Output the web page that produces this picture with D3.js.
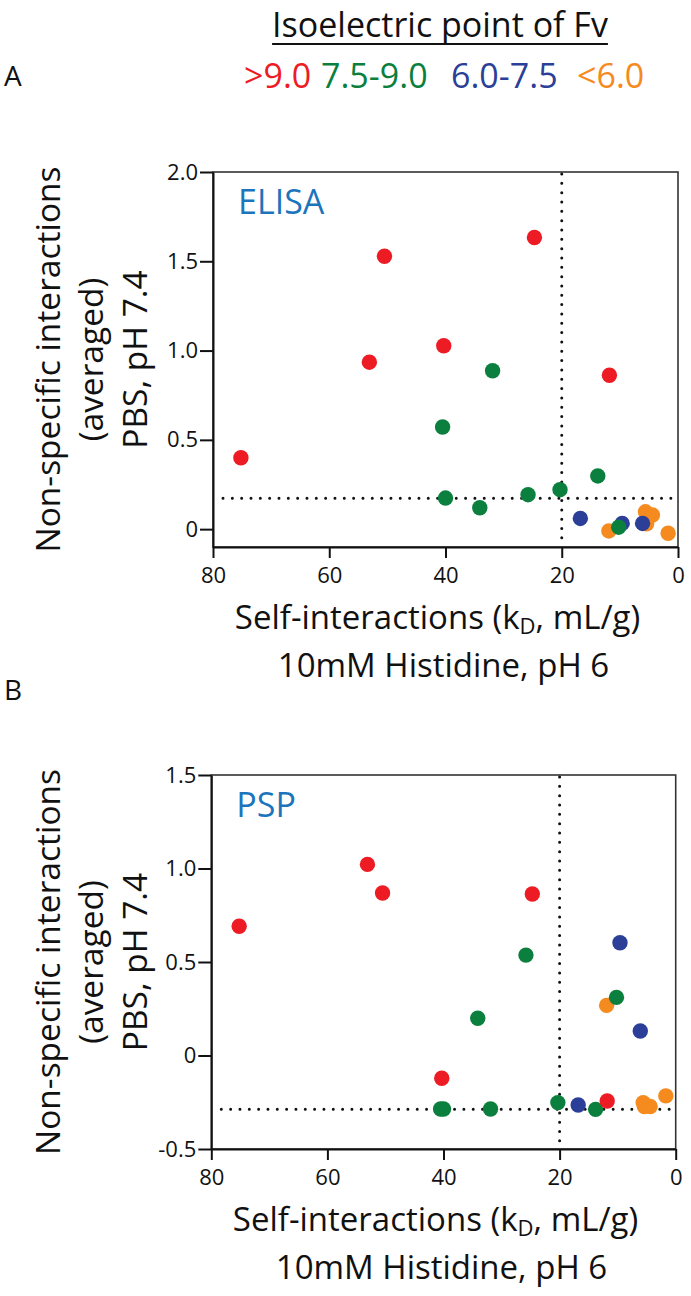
<!DOCTYPE html>
<html><head><meta charset="utf-8">
<script src="https://cdn.jsdelivr.net/npm/d3@7"></script>
<style>
body{margin:0;background:#fff}
svg{display:block}
text{font-family:"Open Sans",sans-serif}
</style>
</head><body>
<svg id="c" width="691" height="1296"></svg>
<script>
// ---- data ----
const groupLabels = [">9.0", "7.5-9.0", "6.0-7.5", "<6.0"];
const groupColors = ["#ED1C24", "#0A7F3E", "#2B3F98", "#F58A1F"];

// self-interactions kD (mL/g), shared by both panels
const redX    = [75.2, 53.1, 50.5, 40.3, 24.7, 11.8];
const greenX  = [40.5, 40.0, 34.1, 31.9, 25.8, 20.3, 13.8, 10.2];
const blueX   = [16.8, 9.6, 6.1];
const orangeX = [11.9, 5.6, 5.4, 4.4, 1.7];

// panel A: ELISA
const redElisa    = [0.40, 0.935, 1.528, 1.027, 1.633, 0.862];
const greenElisa  = [0.572, 0.174, 0.12, 0.887, 0.193, 0.221, 0.298, 0.011];
const blueElisa   = [0.06, 0.032, 0.032];
const orangeElisa = [-0.01, 0.097, 0.03, 0.079, -0.023];

// panel B: PSP
const redPsp    = [0.691, 1.022, 0.869, -0.122, 0.864, -0.243];
const greenPsp  = [-0.286, -0.286, 0.199, -0.286, 0.537, -0.252, -0.288, 0.311];
const bluePsp   = [-0.265, 0.603, 0.131];
const orangePsp = [0.268, -0.252, -0.273, -0.273, -0.216];

const thresholdX = 20;
const thresholdElisa = 0.173;
const thresholdPsp = -0.288;

const xTicks = [80, 60, 40, 20, 0];
const yTicksA = [0, 0.5, 1.0, 1.5, 2.0];
const yTickLabelsA = ["0", "0.5", "1.0", "1.5", "2.0"];
const yTicksB = [-0.5, 0, 0.5, 1.0, 1.5];
const yTickLabelsB = ["-0.5", "0", "0.5", "1.0", "1.5"];

// ---- drawing ----
const svg = d3.select("#c");

// header
const title = svg.append("text").attr("x", 440).attr("y", 37)
  .attr("text-anchor", "middle").attr("font-size", 34).attr("fill", "#111")
  .text("Isoelectric point of Fv");
const tb = title.node().getBBox();
svg.append("line").attr("x1", tb.x).attr("x2", tb.x + tb.width)
  .attr("y1", 44).attr("y2", 44).attr("stroke", "#111").attr("stroke-width", 2);

const legendX = [244, 321, 451, 577];
svg.selectAll("text.leg").data(groupLabels).join("text").attr("class", "leg")
  .attr("x", (d, i) => legendX[i]).attr("y", 88)
  .attr("font-size", 34).attr("fill", (d, i) => groupColors[i]).text(d => d);

svg.append("text").attr("x", 4).attr("y", 86).attr("font-size", 28).attr("fill", "#111").text("A");
svg.append("text").attr("x", 4).attr("y", 700).attr("font-size", 28).attr("fill", "#111").text("B");

function panel(cfg) {
  const x = d3.scaleLinear().domain([80, 0]).range([cfg.left, cfg.right]);
  const y = d3.scaleLinear().domain(cfg.yDomain).range([cfg.bottom, cfg.top]);
  const g = svg.append("g");

  // frame
  g.append("rect").attr("x", cfg.left).attr("y", cfg.top)
    .attr("width", cfg.right - cfg.left).attr("height", cfg.bottom - cfg.top)
    .attr("fill", "none").attr("stroke", "#333").attr("stroke-width", 1.6);

  // dotted threshold lines
  const dot = sel => sel.attr("stroke", "#111").attr("stroke-width", 3)
    .attr("stroke-linecap", "round").attr("stroke-dasharray", "0,9.33");
  g.append("line").attr("x1", x(thresholdX)).attr("x2", x(thresholdX))
    .attr("y1", cfg.top + 2).attr("y2", cfg.bottom).call(dot);
  g.append("line").attr("x1", cfg.left + 10).attr("x2", cfg.right)
    .attr("y1", y(cfg.hline)).attr("y2", y(cfg.hline)).call(dot);

  // axes
  const xa = g.append("g").attr("transform", `translate(0,${cfg.bottom})`)
    .call(d3.axisBottom(x).tickValues(xTicks).tickFormat(d3.format("d"))
      .tickSize(11).tickSizeOuter(0).tickPadding(9));
  const ya = g.append("g").attr("transform", `translate(${cfg.left},0)`)
    .call(d3.axisLeft(y).tickValues(cfg.yTicks).tickFormat((d, i) => cfg.yTickLabels[i])
      .tickSize(13).tickSizeOuter(0).tickPadding(2));
  [xa, ya].forEach(a => {
    a.select(".domain").attr("stroke", "#111").attr("stroke-width", 2);
    a.selectAll(".tick line").attr("stroke", "#111").attr("stroke-width", 2);
    a.selectAll(".tick text").attr("font-size", 22).attr("fill", "#111")
      .attr("font-family", '"Open Sans",sans-serif');
  });

  // panel title
  g.append("text").attr("x", cfg.left + 25).attr("y", cfg.top + 42)
    .attr("font-size", 34).attr("fill", "#1C75BC").text(cfg.name);

  // points
  const series = [
    [orangeX, cfg.orange, groupColors[3]],
    [blueX, cfg.blue, groupColors[2]],
    [greenX, cfg.green, groupColors[1]],
    [redX, cfg.red, groupColors[0]]
  ];
  series.forEach(([xs, ys, col]) => {
    g.append("g").selectAll("circle").data(xs).join("circle")
      .attr("cx", d => x(d)).attr("cy", (d, i) => y(ys[i]))
      .attr("r", 7.7).attr("fill", col);
  });

  // y label
  const cy = (cfg.top + cfg.bottom) / 2;
  const yl = ["Non-specific interactions", "(averaged)", "PBS, pH 7.4"];
  const ylx = [60, 103, 147];
  yl.forEach((t, i) => {
    g.append("text").attr("transform", `translate(${ylx[i]},${cy}) rotate(-90)`)
      .attr("text-anchor", "middle").attr("font-size", 33.5).attr("fill", "#111").text(t);
  });

  // x label (two lines)
  const cx = (cfg.left + cfg.right) / 2 - 8;
  const l1 = g.append("text").attr("x", cx).attr("y", cfg.bottom + 82)
    .attr("text-anchor", "middle").attr("font-size", 33).attr("fill", "#111");
  l1.append("tspan").text("Self-interactions (k");
  l1.append("tspan").attr("font-size", 22).attr("dy", 5).text("D");
  l1.append("tspan").attr("dy", -5).text(", mL/g)");
  g.append("text").attr("x", cx + 6).attr("y", cfg.bottom + 130)
    .attr("text-anchor", "middle").attr("font-size", 33).attr("fill", "#111")
    .text("10mM Histidine, pH 6");
}

panel({name: "ELISA", left: 213, right: 678, top: 172, bottom: 547, yDomain: [-0.1, 2.0],
  yTicks: yTicksA, yTickLabels: yTickLabelsA, hline: thresholdElisa,
  red: redElisa, green: greenElisa, blue: blueElisa, orange: orangeElisa});
panel({name: "PSP", left: 211.3, right: 675.7, top: 775, bottom: 1149, yDomain: [-0.5, 1.5],
  yTicks: yTicksB, yTickLabels: yTickLabelsB, hline: thresholdPsp,
  red: redPsp, green: greenPsp, blue: bluePsp, orange: orangePsp});
</script>
</body></html>
